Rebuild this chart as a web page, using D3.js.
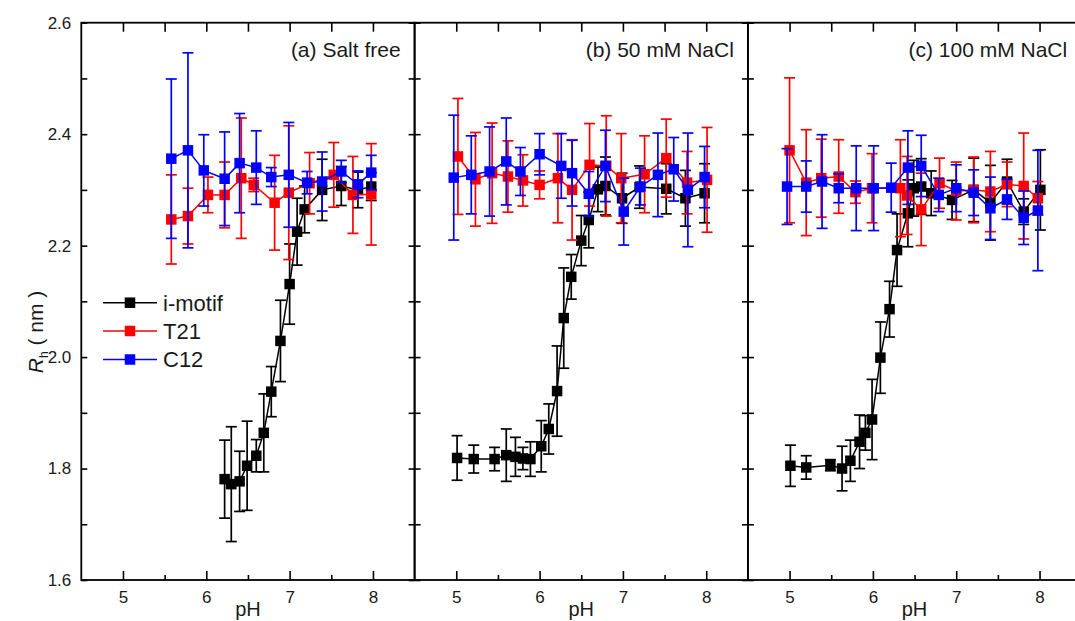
<!DOCTYPE html>
<html>
<head>
<meta charset="utf-8">
<script src="https://cdn.jsdelivr.net/npm/d3@7"></script>
<style>
  body { margin: 0; background: #fff; }
  svg text { font-family: "Liberation Sans", Arial, sans-serif; }
</style>
</head>
<body>
<div id="chartContainer"></div>
<script>
// panel titles and legend
var panelTitles = ["(a) Salt free", "(b) 50 mM NaCl", "(c) 100 mM NaCl"];
var seriesNames = ["i-motif", "T21", "C12"];
var seriesColors = ["#000000", "#ff0000", "#0000ff"];
var xTicks = [5, 6, 7, 8];
var xMinor = [5.5, 6.5, 7.5];
var yTicks = [1.6, 1.8, 2.0, 2.2, 2.4, 2.6];
var yMinor = [1.7, 1.9, 2.1, 2.3, 2.5];

// (a) salt free
var imotifA_pH = [6.22, 6.30, 6.40, 6.49, 6.60, 6.69, 6.78, 6.89, 7.00, 7.09, 7.18, 7.39, 7.62, 7.82, 7.98];
var imotifA_Rh = [1.781, 1.772, 1.777, 1.805, 1.823, 1.864, 1.938, 2.029, 2.131, 2.225, 2.265, 2.300, 2.307, 2.300, 2.306];
var imotifA_err = [0.070, 0.103, 0.054, 0.080, 0.029, 0.070, 0.045, 0.073, 0.072, 0.060, 0.042, 0.055, 0.035, 0.032, 0.025];
var t21A_pH = [5.58, 5.78, 6.02, 6.22, 6.42, 6.57, 6.82, 6.99, 7.24, 7.53, 7.76, 7.98];
var t21A_Rh = [2.247, 2.253, 2.291, 2.291, 2.321, 2.309, 2.277, 2.295, 2.312, 2.327, 2.291, 2.292];
var t21A_err = [0.080, 0.050, 0.032, 0.059, 0.108, 0.012, 0.085, 0.120, 0.055, 0.058, 0.069, 0.091];
var c12A_pH = [5.58, 5.78, 5.97, 6.22, 6.40, 6.60, 6.78, 6.99, 7.21, 7.39, 7.62, 7.82, 7.98];
var c12A_Rh = [2.356, 2.371, 2.335, 2.320, 2.348, 2.340, 2.323, 2.327, 2.313, 2.315, 2.333, 2.310, 2.331];
var c12A_err = [0.143, 0.175, 0.064, 0.084, 0.089, 0.066, 0.017, 0.094, 0.020, 0.053, 0.020, 0.024, 0.031];

// (b) 50 mM NaCl
var imotifB_pH = [5.01, 5.21, 5.46, 5.60, 5.71, 5.80, 5.89, 6.02, 6.11, 6.21, 6.29, 6.38, 6.50, 6.59, 6.70, 6.79, 6.99, 7.20, 7.52, 7.75, 7.98];
var imotifB_Rh = [1.819, 1.817, 1.817, 1.824, 1.821, 1.818, 1.817, 1.840, 1.871, 1.939, 2.070, 2.144, 2.209, 2.246, 2.301, 2.307, 2.285, 2.305, 2.302, 2.285, 2.294];
var imotifB_err = [0.040, 0.025, 0.021, 0.047, 0.035, 0.020, 0.031, 0.046, 0.045, 0.081, 0.090, 0.040, 0.045, 0.050, 0.040, 0.052, 0.045, 0.038, 0.045, 0.050, 0.053];
var t21B_pH = [5.02, 5.23, 5.43, 5.62, 5.80, 6.00, 6.22, 6.39, 6.60, 6.80, 6.98, 7.26, 7.52, 7.77, 8.01];
var t21B_Rh = [2.360, 2.319, 2.330, 2.324, 2.317, 2.309, 2.321, 2.300, 2.345, 2.343, 2.321, 2.328, 2.357, 2.313, 2.318];
var t21B_err = [0.104, 0.084, 0.090, 0.064, 0.046, 0.025, 0.080, 0.090, 0.074, 0.090, 0.080, 0.069, 0.070, 0.056, 0.094];
var c12B_pH = [4.97, 5.18, 5.40, 5.60, 5.77, 6.00, 6.26, 6.39, 6.59, 6.79, 7.01, 7.21, 7.42, 7.61, 7.78, 7.98];
var c12B_Rh = [2.322, 2.327, 2.333, 2.351, 2.333, 2.364, 2.343, 2.330, 2.293, 2.343, 2.261, 2.306, 2.327, 2.337, 2.300, 2.323];
var c12B_err = [0.112, 0.070, 0.080, 0.078, 0.043, 0.037, 0.058, 0.059, 0.040, 0.064, 0.060, 0.033, 0.075, 0.057, 0.102, 0.055];

// (c) 100 mM NaCl
var imotifC_pH = [5.01, 5.20, 5.49, 5.63, 5.73, 5.84, 5.91, 5.99, 6.09, 6.20, 6.29, 6.42, 6.49, 6.58, 6.70, 6.95, 7.21, 7.41, 7.61, 7.81, 8.01];
var imotifC_Rh = [1.805, 1.802, 1.806, 1.800, 1.814, 1.848, 1.864, 1.888, 1.999, 2.086, 2.192, 2.258, 2.303, 2.306, 2.294, 2.282, 2.300, 2.277, 2.315, 2.261, 2.300];
var imotifC_err = [0.037, 0.021, 0.010, 0.040, 0.037, 0.048, 0.031, 0.072, 0.064, 0.050, 0.065, 0.060, 0.050, 0.050, 0.040, 0.035, 0.057, 0.067, 0.040, 0.023, 0.072];
var t21C_pH = [5.00, 5.20, 5.38, 5.59, 5.79, 5.99, 6.33, 6.41, 6.58, 6.80, 7.00, 7.21, 7.41, 7.61, 7.81, 7.98];
var t21C_Rh = [2.371, 2.313, 2.321, 2.324, 2.296, 2.303, 2.303, 2.290, 2.265, 2.312, 2.298, 2.300, 2.297, 2.310, 2.307, 2.285];
var t21C_err = [0.130, 0.095, 0.070, 0.066, 0.020, 0.062, 0.087, 0.070, 0.065, 0.045, 0.052, 0.059, 0.072, 0.040, 0.095, 0.030];
var c12C_pH = [4.97, 5.20, 5.39, 5.59, 5.80, 6.01, 6.22, 6.42, 6.58, 6.79, 7.00, 7.21, 7.41, 7.61, 7.81, 7.98];
var c12C_Rh = [2.306, 2.306, 2.315, 2.303, 2.303, 2.303, 2.304, 2.340, 2.343, 2.291, 2.303, 2.295, 2.267, 2.283, 2.250, 2.263];
var c12C_err = [0.068, 0.046, 0.084, 0.026, 0.076, 0.076, 0.044, 0.066, 0.055, 0.030, 0.042, 0.041, 0.056, 0.036, 0.048, 0.108];

function rows(ph, rh, err) {
  return ph.map(function (p, i) { return {pH: p, Rh: rh[i], err: err[i]}; });
}

var panels = [
  [rows(imotifA_pH, imotifA_Rh, imotifA_err), rows(t21A_pH, t21A_Rh, t21A_err), rows(c12A_pH, c12A_Rh, c12A_err)],
  [rows(imotifB_pH, imotifB_Rh, imotifB_err), rows(t21B_pH, t21B_Rh, t21B_err), rows(c12B_pH, c12B_Rh, c12B_err)],
  [rows(imotifC_pH, imotifC_Rh, imotifC_err), rows(t21C_pH, t21C_Rh, t21C_err), rows(c12C_pH, c12C_Rh, c12C_err)]
];

var W = 1075, H = 621;
var plotLeft = 81.3, plotTop = 22.7, plotBottom = 580, pw = 333.3;
var ms = 10.5; // marker size
var cap = 5.5;
var sw = 1.7;

var svg = d3.select("#chartContainer").append("svg")
  .attr("width", W).attr("height", H);

var y = d3.scaleLinear().domain([1.6, 2.6]).range([plotBottom, plotTop]);

panels.forEach(function (series, k) {
  var x0 = plotLeft + k * pw;
  var x = d3.scaleLinear().domain([4.5, 8.5]).range([x0, x0 + pw]);
  var g = svg.append("g");

  // ticks (all pointing inward)
  g.append("g").attr("transform", "translate(0," + plotBottom + ")")
    .call(d3.axisBottom(x).tickValues(xTicks).tickSizeInner(-9).tickSizeOuter(0).tickPadding(11).tickFormat(d3.format("d")));
  g.append("g").attr("transform", "translate(0," + plotBottom + ")")
    .call(d3.axisBottom(x).tickValues(xMinor).tickSizeInner(-5).tickSizeOuter(0).tickFormat(""));
  g.append("g").attr("transform", "translate(0," + plotTop + ")")
    .call(d3.axisTop(x).tickValues(xTicks.concat(xMinor)).tickSizeInner(-9).tickSizeOuter(0).tickFormat(""));
  var yl = d3.axisLeft(y).tickValues(yTicks.concat(yMinor)).tickSizeInner(-6).tickSizeOuter(0).tickPadding(10);
  if (k == 0) {
    yl.tickFormat(function (d) { return yTicks.indexOf(d) >= 0 ? d3.format(".1f")(d) : ""; });
  } else {
    yl.tickFormat("");
  }
  g.append("g").attr("transform", "translate(" + x0 + ",0)").call(yl);
  g.append("g").attr("transform", "translate(" + (x0 + pw) + ",0)")
    .call(d3.axisRight(y).tickValues(yTicks.concat(yMinor)).tickSizeInner(-6).tickSizeOuter(0).tickFormat(""));

  g.selectAll(".domain").remove();
  g.selectAll(".tick line").attr("stroke", "#000").attr("stroke-width", 1.6);
  g.selectAll(".tick text").attr("fill", "#1a1a1a").style("font-size", "17px");

  // frame
  g.append("rect").attr("x", x0).attr("y", plotTop).attr("width", pw).attr("height", plotBottom - plotTop)
    .attr("fill", "none").attr("stroke", "#000").attr("stroke-width", 1.8);

  // pH label
  g.append("text").attr("x", x(6.5)).attr("y", 616).attr("text-anchor", "middle")
    .style("font-size", "20px").attr("fill", "#1a1a1a").text("pH");

  // panel title
  g.append("text").attr("x", x0 + pw - 14).attr("y", 57).attr("text-anchor", "end")
    .style("font-size", "21px").attr("fill", "#1a1a1a").text(panelTitles[k]);

  series.forEach(function (data, s) {
    var col = seriesColors[s];
    var sg = g.append("g");
    var line = d3.line().x(function (d) { return x(d.pH); }).y(function (d) { return y(d.Rh); });
    sg.append("path").datum(data).attr("d", line)
      .attr("fill", "none").attr("stroke", col).attr("stroke-width", 1.5);

    // error bars
    var eb = sg.selectAll(".eb").data(data).enter().append("g");
    eb.append("line")
      .attr("x1", function (d) { return x(d.pH); }).attr("x2", function (d) { return x(d.pH); })
      .attr("y1", function (d) { return y(d.Rh + d.err); }).attr("y2", function (d) { return y(d.Rh - d.err); })
      .attr("stroke", col).attr("stroke-width", sw);
    [1, -1].forEach(function (sgn) {
      eb.append("line")
        .attr("x1", function (d) { return x(d.pH) - cap; }).attr("x2", function (d) { return x(d.pH) + cap; })
        .attr("y1", function (d) { return y(d.Rh + sgn * d.err); }).attr("y2", function (d) { return y(d.Rh + sgn * d.err); })
        .attr("stroke", col).attr("stroke-width", sw);
    });

    sg.selectAll(".pt").data(data).enter().append("rect")
      .attr("x", function (d) { return x(d.pH) - ms / 2; })
      .attr("y", function (d) { return y(d.Rh) - ms / 2; })
      .attr("width", ms).attr("height", ms)
      .attr("fill", col);
  });
});

// legend
var lg = svg.append("g");
var legY = [302.7, 331, 359.5];
seriesNames.forEach(function (n, i) {
  lg.append("line").attr("x1", 103).attr("x2", 157).attr("y1", legY[i]).attr("y2", legY[i])
    .attr("stroke", seriesColors[i]).attr("stroke-width", 1.5);
  lg.append("rect").attr("x", 130 - ms / 2).attr("y", legY[i] - ms / 2).attr("width", ms).attr("height", ms)
    .attr("fill", seriesColors[i]);
  lg.append("text").attr("x", 163).attr("y", legY[i]).attr("dy", "0.36em")
    .style("font-size", "22px").attr("fill", "#1a1a1a").text(n);
});

// y axis title
var yt = svg.append("text").attr("transform", "translate(43,332) rotate(-90)")
  .attr("text-anchor", "middle").style("font-size", "21px").attr("fill", "#1a1a1a");
yt.append("tspan").style("font-style", "italic").text("R");
yt.append("tspan").attr("dy", 5).style("font-size", "12px").text("h");
yt.append("tspan").attr("dy", -5).text(" ( nm )");
</script>
</body>
</html>
